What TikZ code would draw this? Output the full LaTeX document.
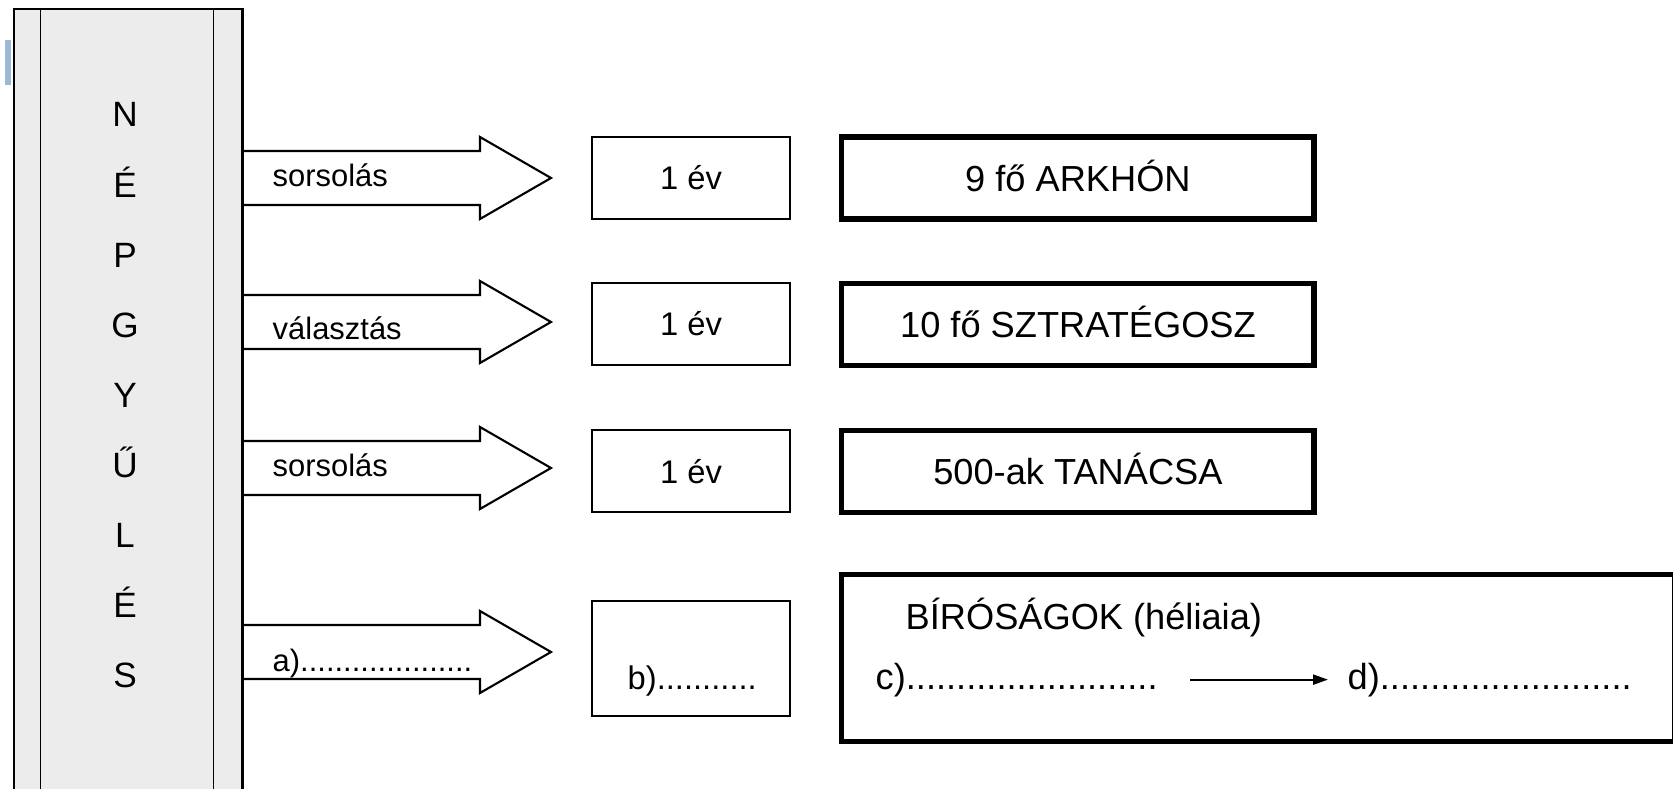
\documentclass[tikz,border=0pt]{standalone}
\usepackage{fontspec}
\setmainfont{Liberation Sans}
\usepackage{tikz}
\usetikzlibrary{arrows.meta,positioning}
\definecolor{AssemblyGray}{HTML}{ECECEC}
\definecolor{MarkBlue}{HTML}{9DB8D4}
\definecolor{LineBlack}{HTML}{000000}
\tikzset{
    % gray column of the assembly
    assembly/.style={
        rectangle,
        draw=LineBlack,
        line width=0.7pt,
        fill=AssemblyGray,
        anchor=north west,
        minimum width=2.28cm,
        minimum height=7.95cm,
        inner sep=0pt
    },
    letter/.style={
        anchor=base,
        inner sep=0pt,
        font=\fontsize{10}{12}\selectfont
    },
    term/.style={
        rectangle,
        draw=LineBlack,
        line width=0.6pt,
        minimum width=1.98cm,
        minimum height=0.82cm,
        text height=6.7pt,
        text depth=0pt,
        font=\fontsize{9.3}{11}\selectfont
    },
    office/.style={
        rectangle,
        draw=LineBlack,
        line width=1.5pt,
        minimum width=4.72cm,
        minimum height=0.82cm,
        text height=7.4pt,
        text depth=0pt,
        font=\fontsize{10.3}{12}\selectfont
    },
    block arrow/.style={
        draw=LineBlack,
        line width=0.6pt,
        fill=white,
        line join=miter
    },
    arrow label/.style={
        anchor=base west,
        inner sep=0pt,
        font=\fontsize{8.8}{10}\selectfont
    },
    blank/.style={
        anchor=base west,
        inner sep=0pt,
        font=\fontsize{10.3}{12}\selectfont
    },
    arrow/.style={
        -{Triangle[length=0.15cm,width=0.1cm]},
        line width=0.6pt,
        color=LineBlack
    }
}
\begin{document}
\begin{tikzpicture}[x=0.01cm, y=-0.01cm, node distance=0.48cm]
\useasboundingbox (0,0) rectangle (1673,788);
\fill[MarkBlue] (5,40) rectangle (11,85);

% block arrows from the assembly
\foreach \y in {178,322,468,652}
    \draw[block arrow] (241,{\y-27}) -- (480,{\y-27}) -- (480,{\y-41}) -- (551,\y)
        -- (480,{\y+41}) -- (480,{\y+27}) -- (241,{\y+27});

\node[assembly] (nep) at (13,8) {};
\draw[line width=0.5pt] ([xshift=0.275cm]nep.north west) -- ([xshift=0.275cm]nep.south west);
\draw[line width=0.5pt] ([xshift=-0.3cm]nep.north east) -- ([xshift=-0.3cm]nep.south east);
\foreach \c [count=\i from 0] in {N,É,P,G,Y,Ű,L,É,S}
    \node[letter] (l\i) at (125,{127+70*\i}) {\c};

\node[arrow label] (lot1) at (272,186) {sorsolás};
\node[arrow label] (vote) at (272,339) {választás};
\node[arrow label] (lot2) at (272,476) {sorsolás};
\node[arrow label] (a) at (272,671) {a)....................};

\node[term] (ev1) at (691,178) {1 év};
\node[term, below=0.62cm of ev1] (ev2) {1 év};
\node[term, below=0.63cm of ev2] (ev3) {1 év};
\node[term, minimum height=1.15cm, below=0.86cm of ev3] (evb) {};
\node[blank, font=\fontsize{9.3}{11}\selectfont] (b) at (627,689) {b)...........};

\node[office, right=of ev1] (arkhon) {9 fő ARKHÓN};
\node[office, right=of ev2] (sztrategosz) {10 fő SZTRATÉGOSZ};
\node[office, right=of ev3] (tanacs) {500-ak TANÁCSA};
\node[office, minimum width=8.32cm, minimum height=1.67cm, right=of evb] (heliaia) {};

\node[blank] (biro) at (905,629) {BÍRÓSÁGOK (héliaia)};
\node[blank] (c) at (875,689) {c).........................};
\node[blank] (d) at (1347,689) {d).........................};
\draw[arrow, shorten <=0.32cm, shorten >=0.19cm] (c.east) -- (d.west);
\end{tikzpicture}
\end{document}
